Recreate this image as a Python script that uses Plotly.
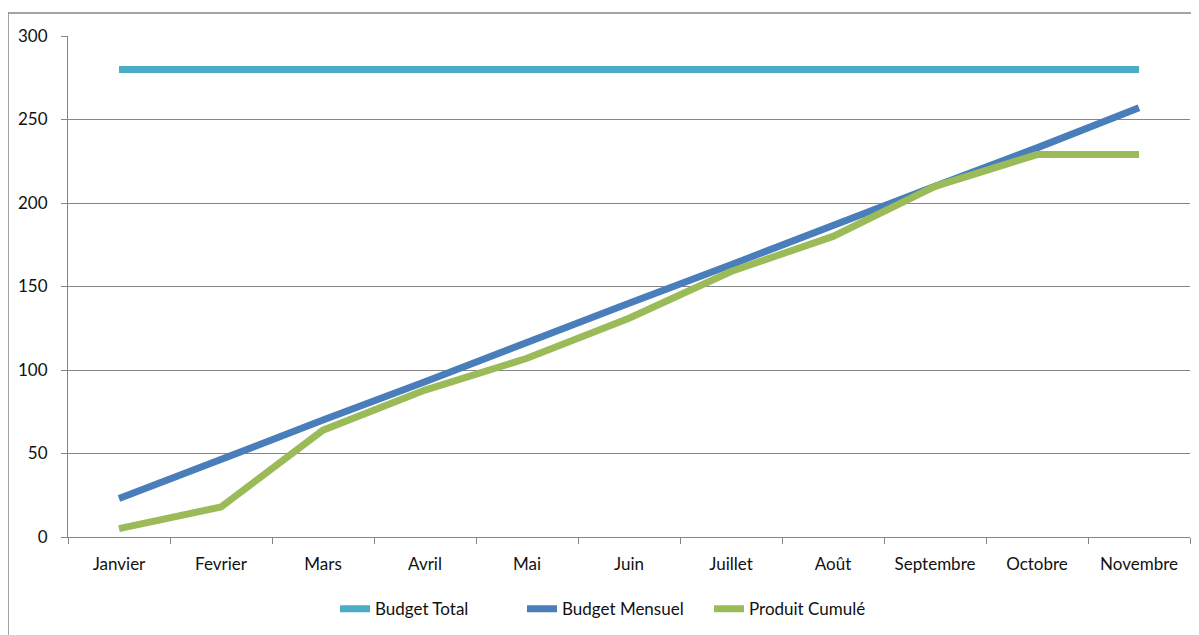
import plotly.graph_objects as go

mois = ["Janvier", "Fevrier", "Mars", "Avril", "Mai", "Juin", "Juillet",
        "Août", "Septembre", "Octobre", "Novembre"]
budget_total = [280, 280, 280, 280, 280, 280, 280, 280, 280, 280, 280]
budget_mensuel = [23, 47, 70, 93, 117, 140, 163, 187, 210, 233, 257]
produit_cumule = [5, 18, 64, 88, 107, 131, 159, 180, 210, 229, 229]

fig = go.Figure()
fig.add_trace(go.Scatter(x=mois, y=budget_total, mode="lines", name="Budget Total",
                         line=dict(color="#4BACC6", width=7)))
fig.add_trace(go.Scatter(x=mois, y=budget_mensuel, mode="lines", name="Budget Mensuel",
                         line=dict(color="#4A7EBB", width=7)))
fig.add_trace(go.Scatter(x=mois, y=produit_cumule, mode="lines", name="Produit Cumulé",
                         line=dict(color="#9BBB59", width=7)))

fig.update_layout(
    width=1199, height=635,
    margin=dict(l=60, r=17, t=28, b=106, autoexpand=False),
    paper_bgcolor="white", plot_bgcolor="white",
    font=dict(family="Lato, 'Noto Sans', sans-serif", size=17, color="#111111"),
    showlegend=True,
    legend=dict(orientation="h", x=(335 - 68) / 1122, xanchor="left", y=-0.144,
                yanchor="middle", font=dict(size=17), itemwidth=30, tracegroupgap=0,
                entrywidth=142, entrywidthmode="pixels"),
    xaxis=dict(showgrid=False, showline=True, linecolor="#868686", linewidth=1,
               ticks="outside", ticklen=6, tickcolor="#868686", tickson="boundaries",
               range=[-0.5, 10.5], fixedrange=True, ticklabelstandoff=12),
    yaxis=dict(range=[0, 300], tickvals=[0, 50, 100, 150, 200, 250, 300],
               showgrid=True, gridcolor="#868686", gridwidth=1,
               showline=True, linecolor="#868686", linewidth=1,
               ticks="outside", ticklen=6, tickcolor="#868686", zeroline=False,
               fixedrange=True, ticklabelstandoff=10),
    shapes=[dict(type="rect", xref="paper", yref="paper",
                 x0=(8 - 68) / 1122, x1=(1215 - 68) / 1122,
                 y0=(537 - 650) / 501, y1=(537 - 13) / 501,
                 line=dict(color="#868686", width=1.5), layer="below")],
)

fig.write_html("out.html")
